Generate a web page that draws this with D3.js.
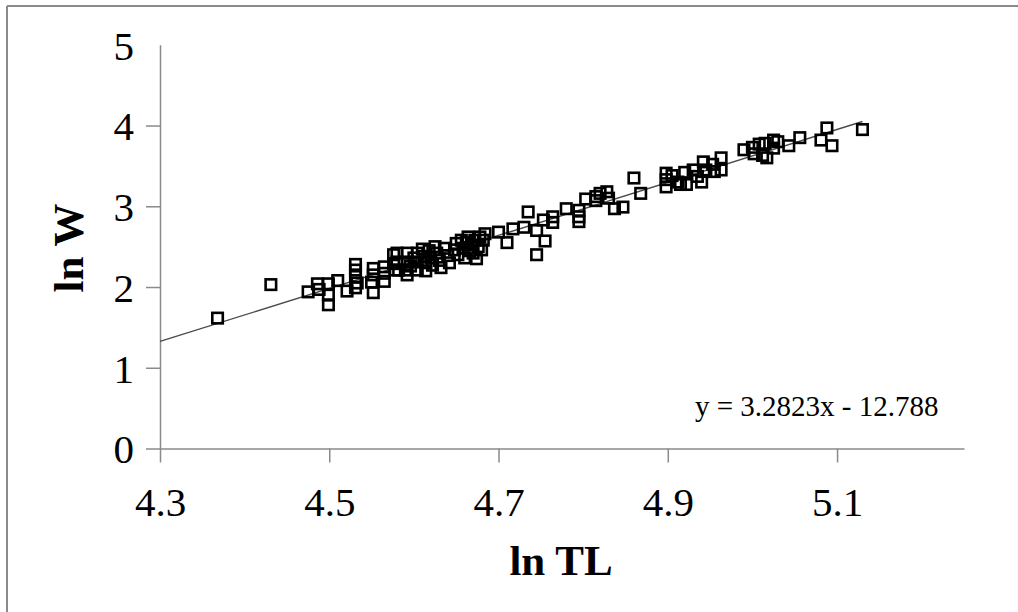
<html>
<head>
<script src="https://d3js.org/d3.v7.min.js"></script>
<style>
  body { margin: 0; background: #fff; }
  svg { font-family: "Liberation Serif", "Times New Roman", serif; }
</style>
</head>
<body>
<svg id="chart"></svg>
<script>
// ln TL / ln W pairs
const lnTL = [4.368, 4.431, 4.475, 4.486, 4.488, 4.499, 4.499, 4.499, 4.51, 4.521,
  4.531, 4.531, 4.531, 4.533, 4.531, 4.552, 4.552, 4.550, 4.552, 4.565,
  4.565, 4.565, 4.576, 4.576, 4.578, 4.58, 4.58, 4.582, 4.592, 4.592,
  4.59, 4.592, 4.604, 4.604, 4.604, 4.60, 4.596, 4.61, 4.612, 4.614,
  4.614, 4.618, 4.62, 4.622, 4.625, 4.627, 4.63, 4.632, 4.636, 4.64,
  4.642, 4.648, 4.65, 4.652, 4.656, 4.658, 4.66, 4.662, 4.664, 4.666,
  4.668, 4.67, 4.672, 4.674, 4.676, 4.678, 4.68, 4.682, 4.684, 4.70,
  4.71, 4.717, 4.73, 4.735, 4.745, 4.745, 4.753, 4.755, 4.764, 4.764,
  4.78, 4.795, 4.795, 4.795, 4.803, 4.815, 4.815, 4.82, 4.828, 4.83,
  4.837, 4.847, 4.86, 4.868, 4.898, 4.898, 4.898, 4.905, 4.912, 4.915,
  4.92, 4.922, 4.93, 4.935, 4.94, 4.942, 4.945, 4.953, 4.955, 4.963,
  4.963, 4.99, 5.0, 5.002, 5.008, 5.012, 5.015, 5.017, 5.025, 5.025,
  5.03, 5.043, 5.056, 5.081, 5.088, 5.094, 5.13];
const lnW = [1.615, 2.03, 1.94, 2.04, 1.97, 2.04, 1.90, 1.78, 2.08, 1.95,
  2.28, 2.21, 2.13, 2.05, 1.99, 2.23, 2.15, 2.06, 1.93, 2.25,
  2.17, 2.07, 2.40, 2.29, 2.21, 2.42, 2.31, 2.21, 2.42, 2.31,
  2.21, 2.15, 2.42, 2.31, 2.21, 2.36, 2.26, 2.47, 2.38, 2.30,
  2.20, 2.45, 2.36, 2.27, 2.50, 2.42, 2.33, 2.24, 2.48, 2.39,
  2.30, 2.46, 2.54, 2.40, 2.58, 2.48, 2.36, 2.55, 2.62, 2.45,
  2.52, 2.42, 2.58, 2.35, 2.50, 2.62, 2.46, 2.58, 2.66, 2.68,
  2.55, 2.72, 2.74, 2.93, 2.70, 2.40, 2.83, 2.57, 2.80, 2.87,
  2.97, 2.95, 2.87, 2.81, 3.09, 3.07, 3.12, 3.16, 3.18, 3.10,
  2.97, 2.99, 3.35, 3.16, 3.41, 3.33, 3.24, 3.38, 3.30, 3.27,
  3.42, 3.27, 3.45, 3.37, 3.30, 3.55, 3.45, 3.52, 3.43, 3.60,
  3.45, 3.70, 3.73, 3.65, 3.77, 3.63, 3.78, 3.60, 3.82, 3.72,
  3.80, 3.75, 3.85, 3.82, 3.97, 3.75, 3.95];
const xTicks = [4.3, 4.5, 4.7, 4.9, 5.1];
const yTicks = [0, 1, 2, 3, 4, 5];
const slope = 3.2823, intercept = -12.788;
const trendX = [4.3, 5.13];

const width = 1018, height = 612;
const svg = d3.select("#chart").attr("width", width).attr("height", height);

// outer chart frame (top and left visible)
svg.append("line").attr("x1", 7).attr("x2", width).attr("y1", 6).attr("y2", 6)
  .attr("stroke", "#8a8a8a").attr("stroke-width", 2);
svg.append("line").attr("x1", 7).attr("x2", 7).attr("y1", 6).attr("y2", height)
  .attr("stroke", "#8a8a8a").attr("stroke-width", 2);

const x = d3.scaleLinear().domain([4.3, 5.25]).range([160, 964]);
const y = d3.scaleLinear().domain([0, 5]).range([448.5, 44.8]);

const xAxis = svg.append("g")
  .attr("transform", `translate(0, ${y(0)})`)
  .call(d3.axisBottom(x).tickValues(xTicks).tickSize(14).tickSizeOuter(0).tickFormat(d3.format(".1f")));
const yAxis = svg.append("g")
  .attr("transform", `translate(${x(4.3)}, 0)`)
  .call(d3.axisLeft(y).tickValues(yTicks).tickSize(14).tickSizeOuter(0).tickFormat(d3.format("d")));

[xAxis, yAxis].forEach(g => {
  g.select(".domain").attr("stroke", "#8a8a8a").attr("stroke-width", 1.5);
  g.selectAll(".tick line").attr("stroke", "#8a8a8a").attr("stroke-width", 1.5);
  g.selectAll("text").attr("font-family", "Liberation Serif, serif")
    .attr("font-size", 41).attr("fill", "#000");
});
xAxis.selectAll("text").attr("dy", null).attr("y", 67);
yAxis.selectAll("text").attr("dy", "0.35em").attr("x", -26);
// the 5 tick has no tick mark in the reference
yAxis.selectAll(".tick").filter(d => d === 5).select("line").remove();

// trend line
svg.append("line")
  .attr("x1", x(trendX[0])).attr("y1", y(slope * trendX[0] + intercept))
  .attr("x2", x(trendX[1])).attr("y2", y(slope * trendX[1] + intercept))
  .attr("stroke", "#4a4a4a").attr("stroke-width", 1.4);

// open square markers
const s = 10.5;
svg.append("g").selectAll("rect")
  .data(lnTL.map((d, i) => [d, lnW[i]]))
  .join("rect")
  .attr("x", d => x(d[0]) - s / 2)
  .attr("y", d => y(d[1]) - s / 2)
  .attr("width", s).attr("height", s)
  .attr("fill", "none")
  .attr("stroke", "#000")
  .attr("stroke-width", 2.6);

svg.append("text")
  .attr("x", 695).attr("y", 416)
  .attr("font-size", 29)
  .text("y = 3.2823x - 12.788");

svg.append("text")
  .attr("x", 561).attr("y", 575)
  .attr("text-anchor", "middle")
  .attr("font-size", 43).attr("font-weight", "bold")
  .text("ln TL");

svg.append("text")
  .attr("transform", "translate(83, 248) rotate(-90)")
  .attr("text-anchor", "middle")
  .attr("font-size", 43).attr("font-weight", "bold")
  .text("ln W");
</script>
</body>
</html>
